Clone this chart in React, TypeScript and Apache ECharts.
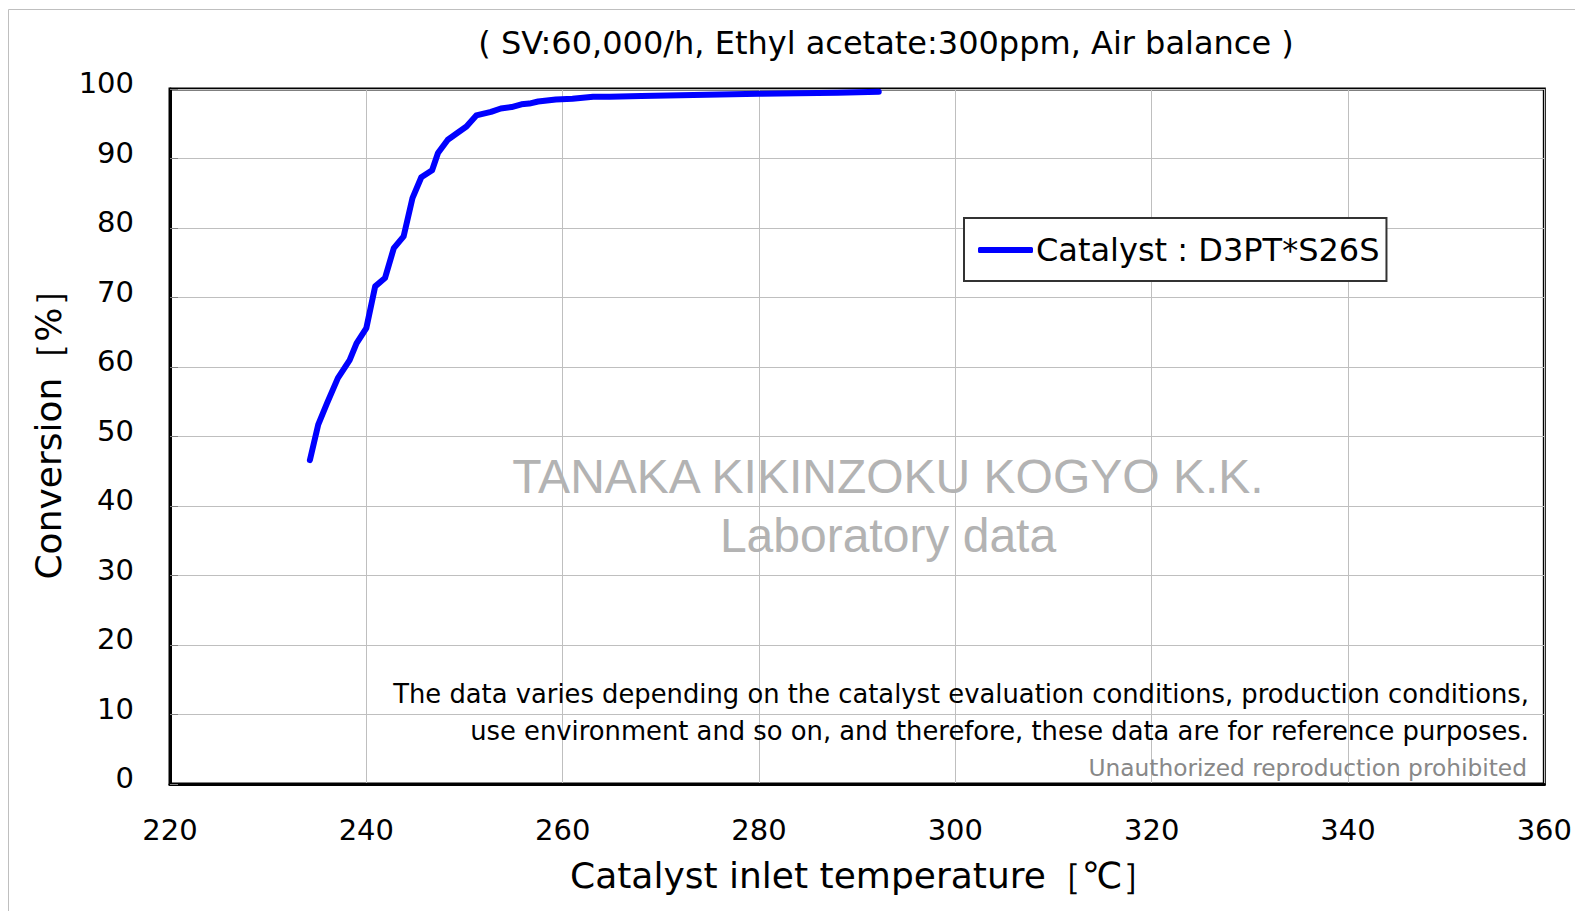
import React, { useEffect, useRef } from "react";
import * as echarts from "echarts";

const temperature = [234.25, 235.1, 236.0, 237.1, 238.3, 239.0, 240.0, 240.9, 241.9, 242.8, 243.8, 244.7, 245.6, 246.7, 247.3, 248.3, 249.3, 250.2, 251.2, 252.7, 253.7, 254.8, 255.8, 256.6, 257.5, 259.3, 261.0, 263.1, 264.8, 268.0, 272.0, 276.0, 280.0, 284.0, 288.0, 292.2];
const conversion = [46.6, 51.7, 54.8, 58.4, 61.0, 63.4, 65.6, 71.6, 72.8, 77.1, 78.8, 84.3, 87.3, 88.3, 90.8, 92.7, 93.7, 94.6, 96.2, 96.7, 97.2, 97.4, 97.8, 97.9, 98.2, 98.5, 98.6, 98.9, 98.9, 99.0, 99.1, 99.2, 99.3, 99.4, 99.45, 99.6];

const seriesName = "Catalyst : D3PT*S26S";
const titleText = "( SV:60,000/h, Ethyl acetate:300ppm, Air balance )";
const xAxisName = "Catalyst inlet temperature［℃］";
const yAxisName = "Conversion［%］";
const watermark1 = "TANAKA KIKINZOKU KOGYO K.K.";
const watermark2 = "Laboratory data";
const note1 = "The data varies depending on the catalyst evaluation conditions, production conditions,";
const note2 = "use environment and so on, and therefore, these data are for reference purposes.";
const note3 = "Unauthorized reproduction prohibited";

const FONT = "DejaVu Sans";

export default function App() {
  const ref = useRef<HTMLDivElement>(null);
  useEffect(() => {
    if (!ref.current) return;
    const chart = echarts.init(ref.current, null, { renderer: "svg" });
    const data = temperature.map((t, i) => [t, conversion[i]]);
    chart.setOption({
      animation: false,
      backgroundColor: "#ffffff",
      title: {
        text: titleText,
        left: 881,
        top: 22,
        textAlign: "center",
        textStyle: { fontFamily: FONT, fontSize: 32, fontWeight: "normal", color: "#000" },
      },
      legend: {
        left: 964,
        top: 218,
        orient: "horizontal",
        itemWidth: 55,
        itemHeight: 6,
        itemGap: 4,
        padding: [16, 7, 15, 14],
        borderColor: "#333",
        borderWidth: 2,
        backgroundColor: "#fff",
        icon: "roundRect",
        textStyle: { fontFamily: FONT, fontSize: 32, color: "#000", padding: [0, 0, 0, -2] },
        data: [seriesName],
      },
      grid: {
        left: 170,
        top: 89,
        width: 1378,
        height: 695,
        show: true,
        borderColor: "#000",
        borderWidth: 3,
      },
      xAxis: {
        type: "value",
        min: 220,
        max: 360,
        interval: 20,
        name: xAxisName,
        nameLocation: "middle",
        nameGap: 73,
        nameTextStyle: { fontFamily: FONT, fontSize: 36, color: "#000", padding: [0, 0, 0, 14] },
        axisLine: { show: true, lineStyle: { color: "#000", width: 3 } },
        axisTick: { show: false },
        axisLabel: { fontFamily: FONT, fontSize: 29, color: "#000", margin: 31 },
        splitLine: { show: true, lineStyle: { color: "#bfbfbf", width: 1 } },
      },
      yAxis: {
        type: "value",
        min: 0,
        max: 100,
        interval: 10,
        name: yAxisName,
        nameLocation: "middle",
        nameGap: 104,
        nameRotate: 90,
        nameTextStyle: { fontFamily: FONT, fontSize: 36, color: "#000", padding: [0, 0, 0, 22] },
        axisLine: { show: true, lineStyle: { color: "#000", width: 3 } },
        axisTick: { show: true, inside: true, length: 8, lineStyle: { color: "#808080", width: 1 } },
        axisLabel: { fontFamily: FONT, fontSize: 29, color: "#000", margin: 36, verticalAlign: "bottom", lineHeight: 12 },
        splitLine: { show: true, lineStyle: { color: "#bfbfbf", width: 1 } },
      },
      graphic: [
        {
          type: "rect",
          shape: { x: 8.5, y: 9.5, width: 1600, height: 1000 },
          style: { fill: "none", stroke: "#bfbfbf", lineWidth: 1 },
          z: -10,
          silent: true,
        },
        {
          type: "text",
          x: 888,
          y: 476,
          style: {
            text: watermark1,
            font: "48px 'Liberation Sans'",
            fill: "#b3b3b3",
            textAlign: "center",
            textVerticalAlign: "middle",
          },
          z: 5,
        },
        {
          type: "text",
          x: 888,
          y: 535,
          style: {
            text: watermark2,
            font: "48px 'Liberation Sans'",
            fill: "#b3b3b3",
            textAlign: "center",
            textVerticalAlign: "middle",
          },
          z: 5,
        },
        {
          type: "text",
          x: 1529,
          y: 694,
          style: {
            text: note1,
            font: "25.8px 'DejaVu Sans'",
            fill: "#000",
            textAlign: "right",
            textVerticalAlign: "middle",
          },
          z: 5,
        },
        {
          type: "text",
          x: 1529,
          y: 731,
          style: {
            text: note2,
            font: "25.8px 'DejaVu Sans'",
            fill: "#000",
            textAlign: "right",
            textVerticalAlign: "middle",
          },
          z: 5,
        },
        {
          type: "text",
          x: 1527,
          y: 767,
          style: {
            text: note3,
            font: "23.3px 'DejaVu Sans'",
            fill: "#888",
            textAlign: "right",
            textVerticalAlign: "middle",
          },
          z: 5,
        },
      ],
      series: [
        {
          name: seriesName,
          type: "line",
          data,
          showSymbol: false,
          symbol: "none",
          lineStyle: { color: "#0000ff", width: 6, cap: "round", join: "round" },
          itemStyle: { color: "#0000ff" },
          z: 10,
        },
      ],
    });
    return () => chart.dispose();
  }, []);
  return (
    <div
      ref={ref}
      style={{ position: "absolute", left: 0, top: 0, width: 1575, height: 911 }}
    />
  );
}
